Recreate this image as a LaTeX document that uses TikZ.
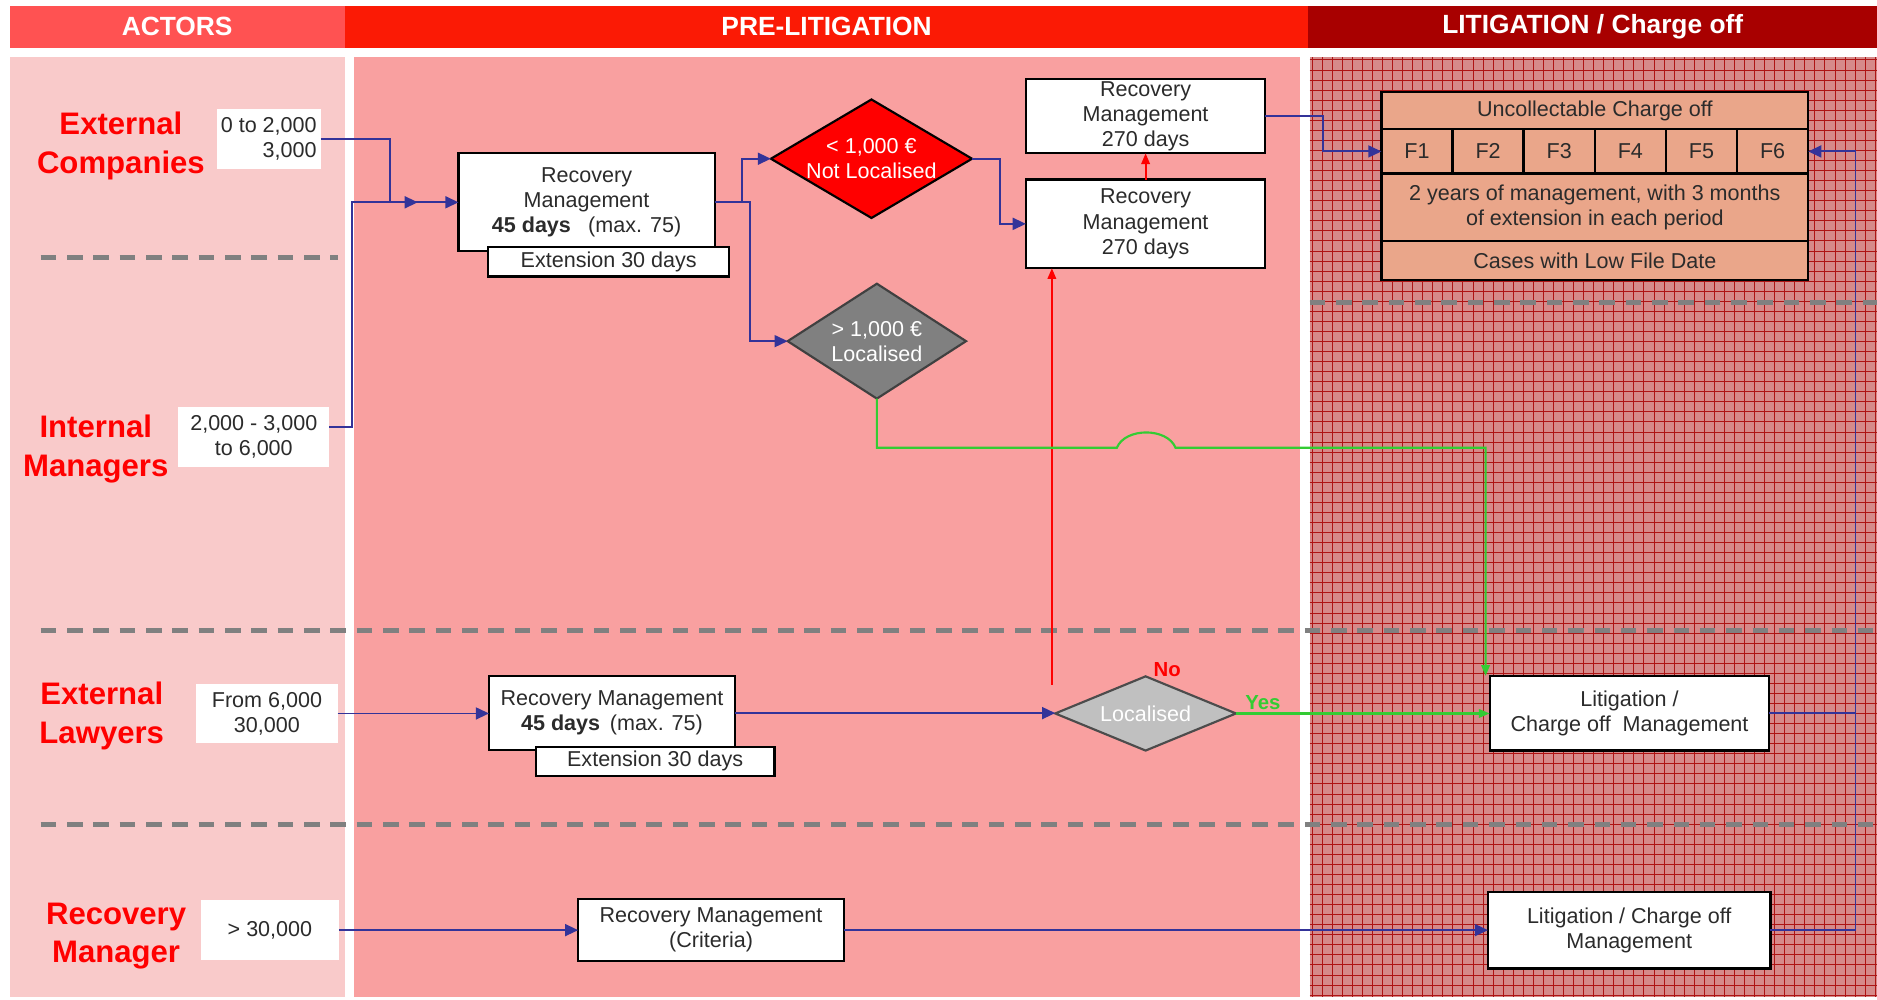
\documentclass[tikz,border=0pt]{standalone}
\usepackage{fontspec}
\setmainfont{Liberation Sans}
\usetikzlibrary{arrows.meta,shapes.geometric,calc}

\definecolor{hdrA}{HTML}{FF5252}
\definecolor{hdrP}{HTML}{FB1A05}
\definecolor{hdrL}{HTML}{A80000}
\definecolor{colA}{HTML}{F9CACA}
\definecolor{colP}{HTML}{F9A0A0}
\definecolor{colL}{HTML}{D68A8A}
\definecolor{gridL}{HTML}{AE1414}
\definecolor{flowblue}{HTML}{333399}
\definecolor{flowred}{HTML}{FF0000}
\definecolor{flowgreen}{HTML}{33CC33}
\definecolor{tabfill}{HTML}{EAA68A}
\definecolor{txt}{HTML}{2B2B2B}
\definecolor{sepgray}{HTML}{808080}
\definecolor{actred}{HTML}{FF0000}
\definecolor{dgray}{HTML}{808080}
\definecolor{lgray}{HTML}{C0C0C0}

\begin{document}
\begin{tikzpicture}[x=1pt,y=-1pt,
  every node/.style={inner sep=0pt, outer sep=0pt, text=txt,
    font=\fontsize{18}{21}\selectfont},
  hdr/.style={fill=#1, text=white, minimum height=35pt,
    font=\fontsize{22}{26}\selectfont\bfseries},
  actor/.style={text=actred, align=center,
    font=\fontsize{26}{32}\selectfont\bfseries},
  amount/.style={fill=white, minimum height=50pt},
  procbox/.style={draw=black, line width=1.8pt, fill=white, align=center},
  tabcell/.style={draw=black, line width=2pt, fill=tabfill, align=center},
  decision/.style={diamond, draw=#1, line width=1.8pt},
  sepline/.style={draw=sepgray, line width=4pt, dash pattern=on 13pt off 9pt},
  flow/.style={draw=flowblue, line width=1.6pt, -{Triangle[length=11pt,width=10pt]}},
  link/.style={draw=flowblue, line width=1.6pt},
  noflow/.style={draw=flowred, line width=1.8pt, -{Triangle[length=9pt,width=7pt]}},
  yesflow/.style={draw=flowgreen, line width=1.8pt, -{Triangle[length=9pt,width=7pt]}},
  tag/.style={font=\fontsize{17}{20}\selectfont\bfseries, text=#1},
]
\useasboundingbox (0,0) rectangle (1568,835);

% ---------- swimlane backgrounds ----------
\fill[colA] (8,48) rectangle (288,833);
\fill[colP] (296,48) rectangle (1086,833);
\fill[colL] (1094,48) rectangle (1568,833);
\begin{scope}
  \clip (1094,48) rectangle (1568,833);
  \foreach \i in {0,...,57}
    \draw[gridL, line width=0.6pt] (1096+\i*8.4,48) -- (1096+\i*8.4,833);
  \foreach \j in {0,...,94}
    \draw[gridL, line width=0.6pt] (1094,50+\j*8.4) -- (1568,50+\j*8.4);
\end{scope}

% ---------- column headers ----------
\node[hdr=hdrA, minimum width=280pt] (hA) at (148,22.5) {ACTORS};
\node[hdr=hdrP, minimum width=805pt] (hP) at (690.5,22.5) {PRE-LITIGATION};
\node[hdr=hdrL, minimum width=475pt] (hL) at (1330.5,22.5) {LITIGATION / Charge off};

% ---------- lane separators ----------
\draw[sepline] (34,215) -- (282,215);
\draw[sepline] (1094,253) -- (1568,253);
\draw[sepline] (34,527) -- (1568,527);
\draw[sepline] (34,689) -- (1568,689);

% ---------- actors ----------
\node[actor] (acEC) at (101,122) {External\\Companies};
\node[actor] (acIM) at (80,375) {Internal\\Managers};
\node[actor] (acEL) at (85,598) {External\\Lawyers};
\node[actor] (acRM) at (97,782) {Recovery\\Manager};

\node[amount, minimum width=87pt, align=right] (ec) at (224.5,116) {0 to 2,000\\3,000};
\node[amount, minimum width=126pt, align=center] (im) at (212,365) {2,000 - 3,000\\to 6,000};
\node[amount, minimum width=118pt, align=center] (el) at (223,596) {From 6,000\\30,000};
\node[amount, minimum width=115pt, align=center] (rm) at (225.5,777) {> 30,000};

% ---------- pre-litigation ----------
\node[procbox, minimum width=214pt, minimum height=82pt] (rm1) at (490,169)
  {Recovery\\Management\\\textbf{45 days}\hspace{0.8em}(max. 75)};
\node[procbox, minimum width=201pt, minimum height=25pt] (ext1) at (508.5,218.5) {Extension 30 days};

\node[decision=black, fill=flowred, minimum width=168pt, minimum height=99pt,
  label={[text=white, align=center]center:{< 1,000 €\\Not Localised}}] (d1) at (728,132.6) {};
\node[decision=black!75, fill=dgray, minimum width=149pt, minimum height=96pt,
  label={[text=white, align=center]center:{> 1,000 €\\Localised}}] (d2) at (732.5,285) {};

\node[procbox, minimum width=200pt, minimum height=62pt] (rm2) at (957,97)
  {Recovery\\Management\\270 days};
\node[procbox, minimum width=200pt, minimum height=74pt] (rm3) at (957,187)
  {Recovery\\Management\\270 days};

\node[procbox, minimum width=205.5pt, minimum height=62pt] (rm4) at (511.25,595.7)
  {Recovery Management\\\textbf{45 days}\hspace{0.45em}(max. 75)};
\node[procbox, minimum width=199.4pt, minimum height=24.2pt] (ext2) at (547.3,636) {Extension 30 days};

\node[decision=black!70, fill=lgray, minimum width=151pt, minimum height=62pt,
  label={[text=white]center:Localised}] (loc) at (957,596) {};

\node[procbox, minimum width=222pt, minimum height=52pt] (rmc) at (594,777)
  {Recovery Management\\(Criteria)};

% ---------- litigation / charge off ----------
\node[tabcell, minimum width=356.5pt, minimum height=31pt] (tUC) at (1332.25,92.5) {Uncollectable Charge off};
\foreach \k in {1,...,6}
  \node[tabcell, minimum width=59.42pt, minimum height=37pt] (f\k) at (1154+59.42*\k-29.71,126.5) {F\k};
\node[tabcell, minimum width=356.5pt, minimum height=56.4pt] (tYR) at (1332.25,173.2)
  {2 years of management, with 3 months\\of extension in each period};
\node[tabcell, minimum width=356.5pt, minimum height=32.6pt] (tLF) at (1332.25,217.7) {Cases with Low File Date};

\node[procbox, minimum width=233.5pt, minimum height=62.3pt] (lit1) at (1361.25,595.85)
  {Litigation /\\Charge off~~Management};
\node[procbox, minimum width=236pt, minimum height=64pt] (lit2) at (1361,777)
  {Litigation / Charge off\\Management};

% ---------- connectors ----------
\coordinate (mid1) at (349,169);
\draw[flow] (ec.east) -| ($(rm1.west)+(-57,0)$) -- (rm1.west);
\draw[flow] ($(im.east)+(0,-8.5)$) -| ($(mid1)+(-55,0)$) -- (mid1);

\draw[flow] (rm1.east) -- ++(22.5,0) |- (d1.west);
\draw[flow] (rm1.east) -- ++(29.7,0) |- (d2.west);
\draw[flow] (d1.east) -- ++(23,0) |- (rm3.west);
\draw[noflow] (rm3.north) -- (rm2.south);
\draw[flow] (rm2.east) -- ++(48,0) |- (f1.west);

\draw[flow] (el.east) -- (el.east -| rm4.west);
\draw[flow] (rm4.east) -- (rm4.east -| loc.west);

\coordinate (noX) at (878.7,572);
\draw[noflow] (noX) -- (noX |- rm3.south);
\node[tag=flowred] (lblNo) at (975,559) {No};

\draw[yesflow] (loc.east) -- (loc.east -| lit1.west);
\node[tag=flowgreen] (lblYes) at (1055,587) {Yes};

\coordinate (hopL) at (933,374);
\coordinate (hopR) at (982,374);
\coordinate (gC) at (1241,374);
\draw[yesflow] (d2.south) |- (hopL) .. controls (940,357) and (975,357) .. (hopR)
  -- (gC) -- (gC |- lit1.north);

\draw[flow] (rm.east) -- (rm.east -| rmc.west);
\draw[flow] (rmc.east) -- (rmc.east -| lit2.west);
\coordinate (rail) at (1550,777);
\draw[flow] (lit2.east) -- (rail) |- (f6.east);
\draw[link] (lit1.east) -- (lit1.east -| rail);
\end{tikzpicture}
\end{document}
